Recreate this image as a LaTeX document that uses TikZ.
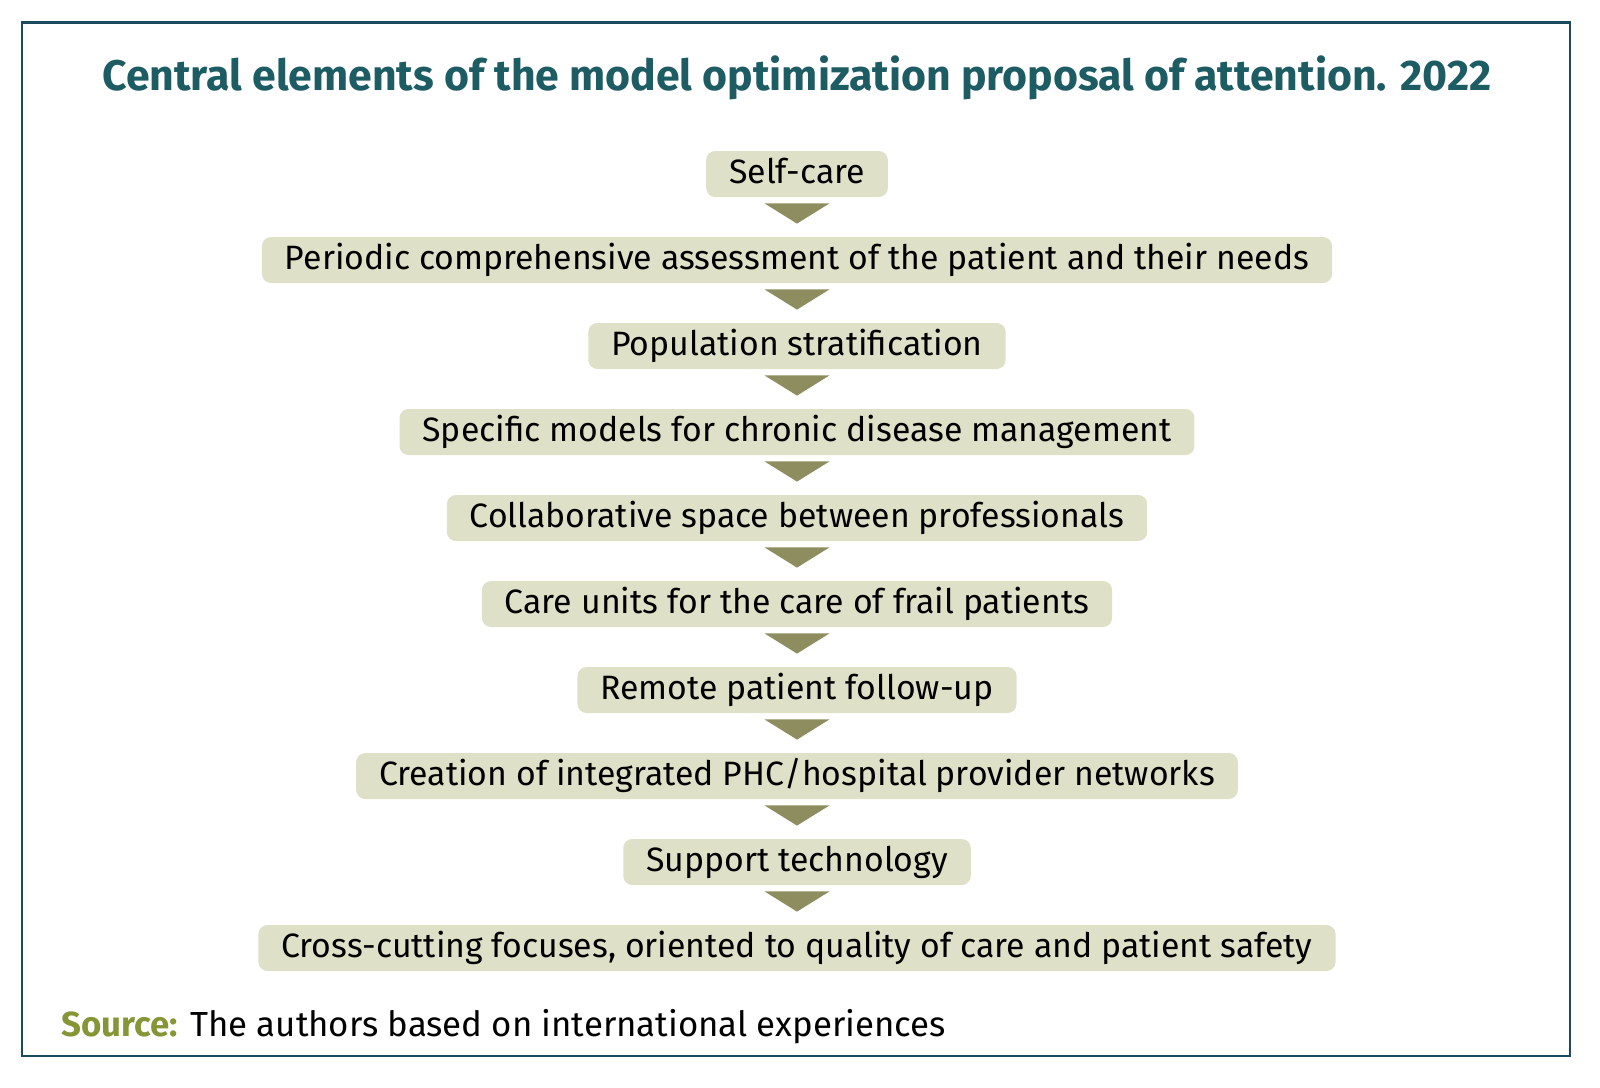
\documentclass[tikz,border=0pt]{standalone}
\usepackage{fontspec}
\setmainfont{Fira Sans}
\usetikzlibrary{positioning}
\definecolor{modelframe}{HTML}{1B4A60}
\definecolor{modeltitle}{HTML}{1E5C64}
\definecolor{modelbox}{HTML}{DEE1C8}
\definecolor{modelarrow}{HTML}{8E8D60}
\definecolor{modelsource}{HTML}{869637}

\begin{document}
\begin{tikzpicture}[
  x=0.5pt,
  y=-0.5pt,
  every node/.style={black},
  frame/.style={modelframe, line width=1.1pt},
  stage/.style={fill=modelbox, rounded corners=4.5pt, minimum height=23pt,
    inner xsep=11.5pt, inner ysep=0pt, text height=1.1em, text depth=0.12em,
    font=\fontsize{16.9}{19}\selectfont},
  down/.style={fill=modelarrow},
  heading/.style={modeltitle, font=\fontsize{21.4}{25}\selectfont\bfseries}
]
  % ---- page and frame --------------------------------------------------
  \useasboundingbox (0,0) rectangle (1600,1087);
  \draw[frame] (22,22.5) rectangle (1570,1056);

  % ---- title -----------------------------------------------------------
  \node[heading, anchor=base] (title) at (797,90)
    {Central elements of the model optimization proposal of attention. 2022};

  % ---- the ten stages --------------------------------------------------
  \node[stage] (s1)  at (797,174) {Self-care};
  \node[stage] (s2)  at (797,260) {Periodic comprehensive assessment of the patient and their needs};
  \node[stage] (s3)  at (797,346) {Population stratification};
  \node[stage] (s4)  at (797,432) {Specific models for chronic disease management};
  \node[stage] (s5)  at (797,518) {Collaborative space between professionals};
  \node[stage] (s6)  at (797,604) {Care units for the care of frail patients};
  \node[stage] (s7)  at (797,690) {Remote patient follow-up};
  \node[stage] (s8)  at (797,776) {Creation of integrated PHC/hospital provider networks};
  \node[stage] (s9)  at (797,862) {Support technology};
  \node[stage] (s10) at (797,948) {Cross-cutting focuses, oriented to quality of care and patient safety};

  % ---- arrow heads between stages ---------------------------------------
  \foreach \a/\b in {s1/s2,s2/s3,s3/s4,s4/s5,s5/s6,s6/s7,s7/s8,s8/s9,s9/s10}
    \fill[down] ([shift={(-32.5,6)}]\a.south) -- ([shift={(32.5,6)}]\a.south)
      -- ([shift={(0,-13)}]\b.north) -- cycle;

  % ---- source line -----------------------------------------------------
  \node[anchor=base west, inner sep=0pt, font=\fontsize{17.4}{20}\selectfont] (source) at (61,1036)
    {\textcolor{modelsource}{\bfseries Source:} The authors based on international experiences};
\end{tikzpicture}
\end{document}
